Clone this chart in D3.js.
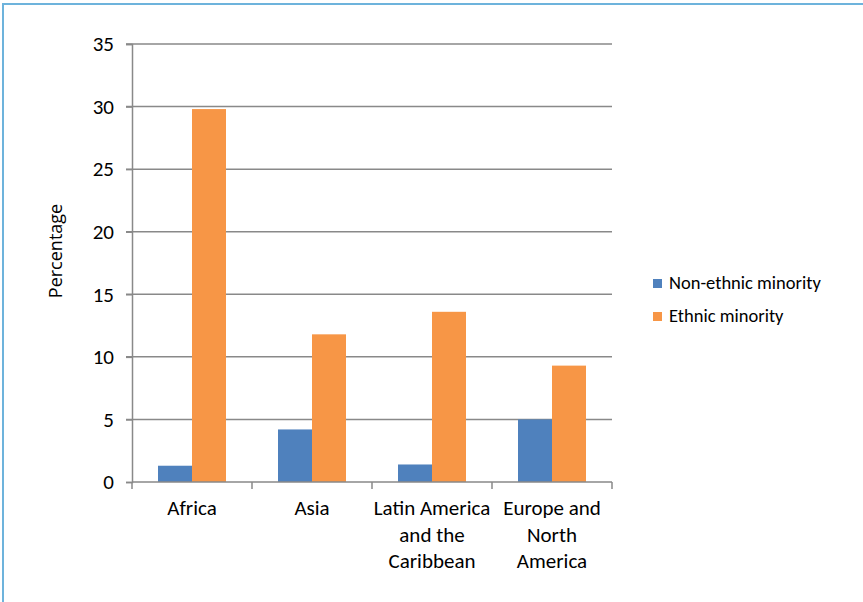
<!doctype html>
<html>
<head>
<style>
  body { margin: 0; background: #fff; }
  text { font-family: Carlito, "Noto Sans", sans-serif; fill: #000; }
</style>
<script src="https://d3js.org/d3.v7.min.js"></script>
</head>
<body>
<svg id="chart" width="863" height="602"></svg>
<script>
// data
var categories = ["Africa", "Asia", "Latin America and the Caribbean", "Europe and North America"];
var categoryLines = [["Africa"], ["Asia"], ["Latin America", "and the", "Caribbean"], ["Europe and", "North", "America"]];
var series = ["Non-ethnic minority", "Ethnic minority"];
var nonEthnic = [1.3, 4.2, 1.4, 5.0];
var ethnic = [29.8, 11.8, 13.6, 9.3];
var yTicks = [0, 5, 10, 15, 20, 25, 30, 35];
var colors = ["#4F81BD", "#F79646"];

var svg = d3.select("#chart");

// light blue frame (top and left edge visible)
svg.append("rect")
   .attr("x", 3).attr("y", 4)
   .attr("width", 900).attr("height", 620)
   .attr("fill", "none")
   .attr("stroke", "#6DB3DC")
   .attr("stroke-width", 2);

var plotLeft = 132, plotRight = 612, plotTop = 44, plotBottom = 482;

var x0 = d3.scaleBand().domain(categories).range([plotLeft, plotRight]).paddingInner(0);
var x1 = d3.scaleBand().domain(series).range([0, x0.bandwidth()]).paddingInner(0).paddingOuter(0.765);
var y = d3.scaleLinear().domain([0, 35]).range([plotBottom, plotTop]);

// gridlines
svg.append("g")
   .selectAll("line")
   .data(yTicks.filter(function(d) { return d > 0; }))
   .enter().append("line")
   .attr("x1", plotLeft - 6).attr("x2", plotRight)
   .attr("y1", function(d) { return y(d); })
   .attr("y2", function(d) { return y(d); })
   .attr("stroke", "#898989")
   .attr("stroke-width", 1.5);

// bars
var rows = categories.map(function(c, i) { return {cat: c, vals: [nonEthnic[i], ethnic[i]]}; });
var groups = svg.append("g").selectAll("g")
   .data(rows)
   .enter().append("g")
   .attr("transform", function(d) { return "translate(" + x0(d.cat) + ",0)"; });

groups.selectAll("rect")
   .data(function(d) { return d.vals.map(function(v, j) { return {s: series[j], v: v, j: j}; }); })
   .enter().append("rect")
   .attr("x", function(d) { return x1(d.s); })
   .attr("width", x1.bandwidth())
   .attr("y", function(d) { return y(d.v); })
   .attr("height", function(d) { return plotBottom - y(d.v); })
   .attr("fill", function(d) { return colors[d.j]; });

// y axis
var yAxis = svg.append("g")
   .attr("transform", "translate(" + plotLeft + ",0)")
   .call(d3.axisLeft(y).tickValues(yTicks).tickSize(6).tickPadding(12));
yAxis.select(".domain").attr("stroke", "#898989").attr("stroke-width", 1.5);
yAxis.selectAll(".tick line").attr("stroke", "#898989").attr("stroke-width", 1.5);
yAxis.selectAll(".tick text").attr("font-size", "21px").attr("font-family", "Carlito, 'Noto Sans', sans-serif");

// x axis line and boundary ticks
svg.append("line")
   .attr("x1", plotLeft).attr("x2", plotRight)
   .attr("y1", plotBottom).attr("y2", plotBottom)
   .attr("stroke", "#898989").attr("stroke-width", 1.5);
var bounds = categories.map(function(c) { return x0(c); }).concat([plotRight]);
svg.append("g").selectAll("line")
   .data(bounds)
   .enter().append("line")
   .attr("x1", function(d) { return d; }).attr("x2", function(d) { return d; })
   .attr("y1", plotBottom).attr("y2", plotBottom + 7)
   .attr("stroke", "#898989").attr("stroke-width", 1.5);

// category labels
var labels = svg.append("g").selectAll("text")
   .data(categories)
   .enter().append("text")
   .attr("text-anchor", "middle")
   .attr("font-size", "21px");
labels.each(function(d, i) {
  var t = d3.select(this);
  categoryLines[i].forEach(function(line, k) {
    t.append("tspan")
     .attr("x", x0(d) + x0.bandwidth() / 2)
     .attr("y", 515 + k * 26.5)
     .text(line);
  });
});

// y title
svg.append("text")
   .attr("transform", "translate(62,251) rotate(-90)")
   .attr("text-anchor", "middle")
   .attr("font-size", "18px")
   .style("font-family", "'Open Sans', 'Noto Sans', sans-serif")
   .text("Percentage");

// legend
var legend = svg.append("g").selectAll("g")
   .data(series)
   .enter().append("g")
   .attr("transform", function(d, i) { return "translate(653," + (279 + i * 33) + ")"; });
legend.append("rect")
   .attr("width", 9).attr("height", 9)
   .attr("fill", function(d, i) { return colors[i]; });
legend.append("text")
   .attr("x", 16).attr("y", 10)
   .attr("font-size", "18.5px")
   .text(function(d) { return d; });
</script>
</body>
</html>
